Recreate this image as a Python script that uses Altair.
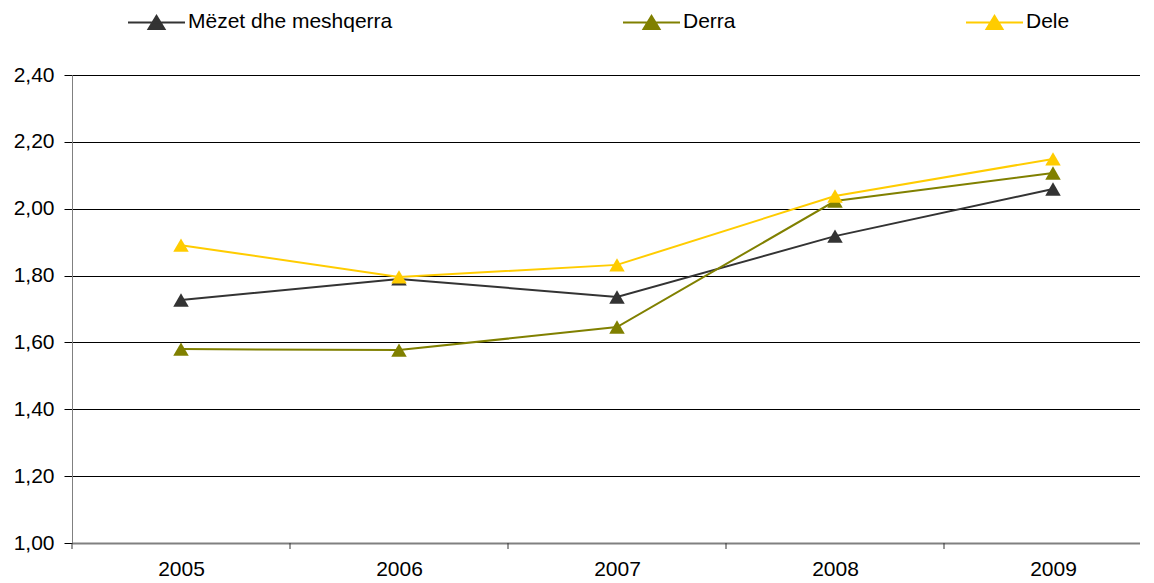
import altair as alt
import pandas as pd

years = [2005, 2006, 2007, 2008, 2009]
series_names = ["Mëzet dhe meshqerra", "Derra", "Dele"]
mezet = [1.727, 1.790, 1.736, 1.918, 2.059]
derra = [1.580, 1.577, 1.646, 2.023, 2.107]
dele = [1.891, 1.796, 1.832, 2.038, 2.149]
colors = ["#333333", "#808000", "#FFCC00"]
y_ticks = [1.0, 1.2, 1.4, 1.6, 1.8, 2.0, 2.2, 2.4]

rows = []
for name, vals in zip(series_names, [mezet, derra, dele]):
    for yr, v in zip(years, vals):
        rows.append({"year": yr, "value": v, "series": name})
df = pd.DataFrame(rows)

bounds = pd.DataFrame({"b": [yr - 0.5 for yr in years]})

W, H = 1068, 468
x_domain = [years[0] - 0.5, years[0] - 0.5 + W / 218]
FONT = "Liberation Sans"

legend_path = "M-1,0L1,0M-0.28,0.23L0,-0.23L0.28,0.23Z"
legend = alt.Legend(
    title=None, orient="none", direction="horizontal",
    legendX=55, legendY=-82.5, padding=0,
    symbolType=legend_path, symbolSize=3249, symbolStrokeWidth=2,
    columnPadding=226, labelOffset=2,
    labelFont=FONT, labelFontSize=21, labelColor="black", labelLimit=400,
)

x_enc = alt.X("year:Q", scale=alt.Scale(domain=x_domain, nice=False, zero=False),
              axis=alt.Axis(values=years, format="d", ticks=False, tickSize=0, grid=False,
                            domainColor="#808080", domainWidth=2, labelFlush=False,
                            labelFont=FONT, labelFontSize=21, labelColor="black",
                            labelPadding=15, title=None))
y_enc = alt.Y("value:Q", scale=alt.Scale(domain=[1.0, 2.4], nice=False, zero=False),
              axis=alt.Axis(values=y_ticks, grid=True, gridColor="black", gridWidth=1,
                            labelExpr="replace(format(datum.value, '.2f'), '.', ',')",
                            tickColor="black", tickSize=8, domainColor="#808080",
                            labelFont=FONT, labelFontSize=21, labelColor="black",
                            labelPadding=10, title=None))

base = alt.Chart(df)
lines = base.mark_line(strokeWidth=2).encode(
    x=x_enc, y=y_enc,
    stroke=alt.Stroke("series:N", scale=alt.Scale(domain=series_names, range=colors), legend=legend),
)
points = base.mark_point(filled=True, shape="triangle-up", size=240, opacity=1).encode(
    x="year:Q", y="value:Q",
    fill=alt.Fill("series:N", scale=alt.Scale(domain=series_names, range=colors), legend=legend),
)
ticks = alt.Chart(bounds).mark_rule(color="#333333", strokeWidth=1).encode(
    x="b:Q", y=alt.value(H), y2=alt.value(H + 6)
)

chart = alt.layer(lines, points, ticks).properties(
    width=W, height=H,
    autosize=alt.AutoSizeParams(type="none"),
    padding={"left": 64, "top": 67, "right": 0, "bottom": 40},
).configure_view(strokeWidth=0).configure(background="white")

chart.save("out.html", embed_options={"renderer": "svg", "actions": False})
